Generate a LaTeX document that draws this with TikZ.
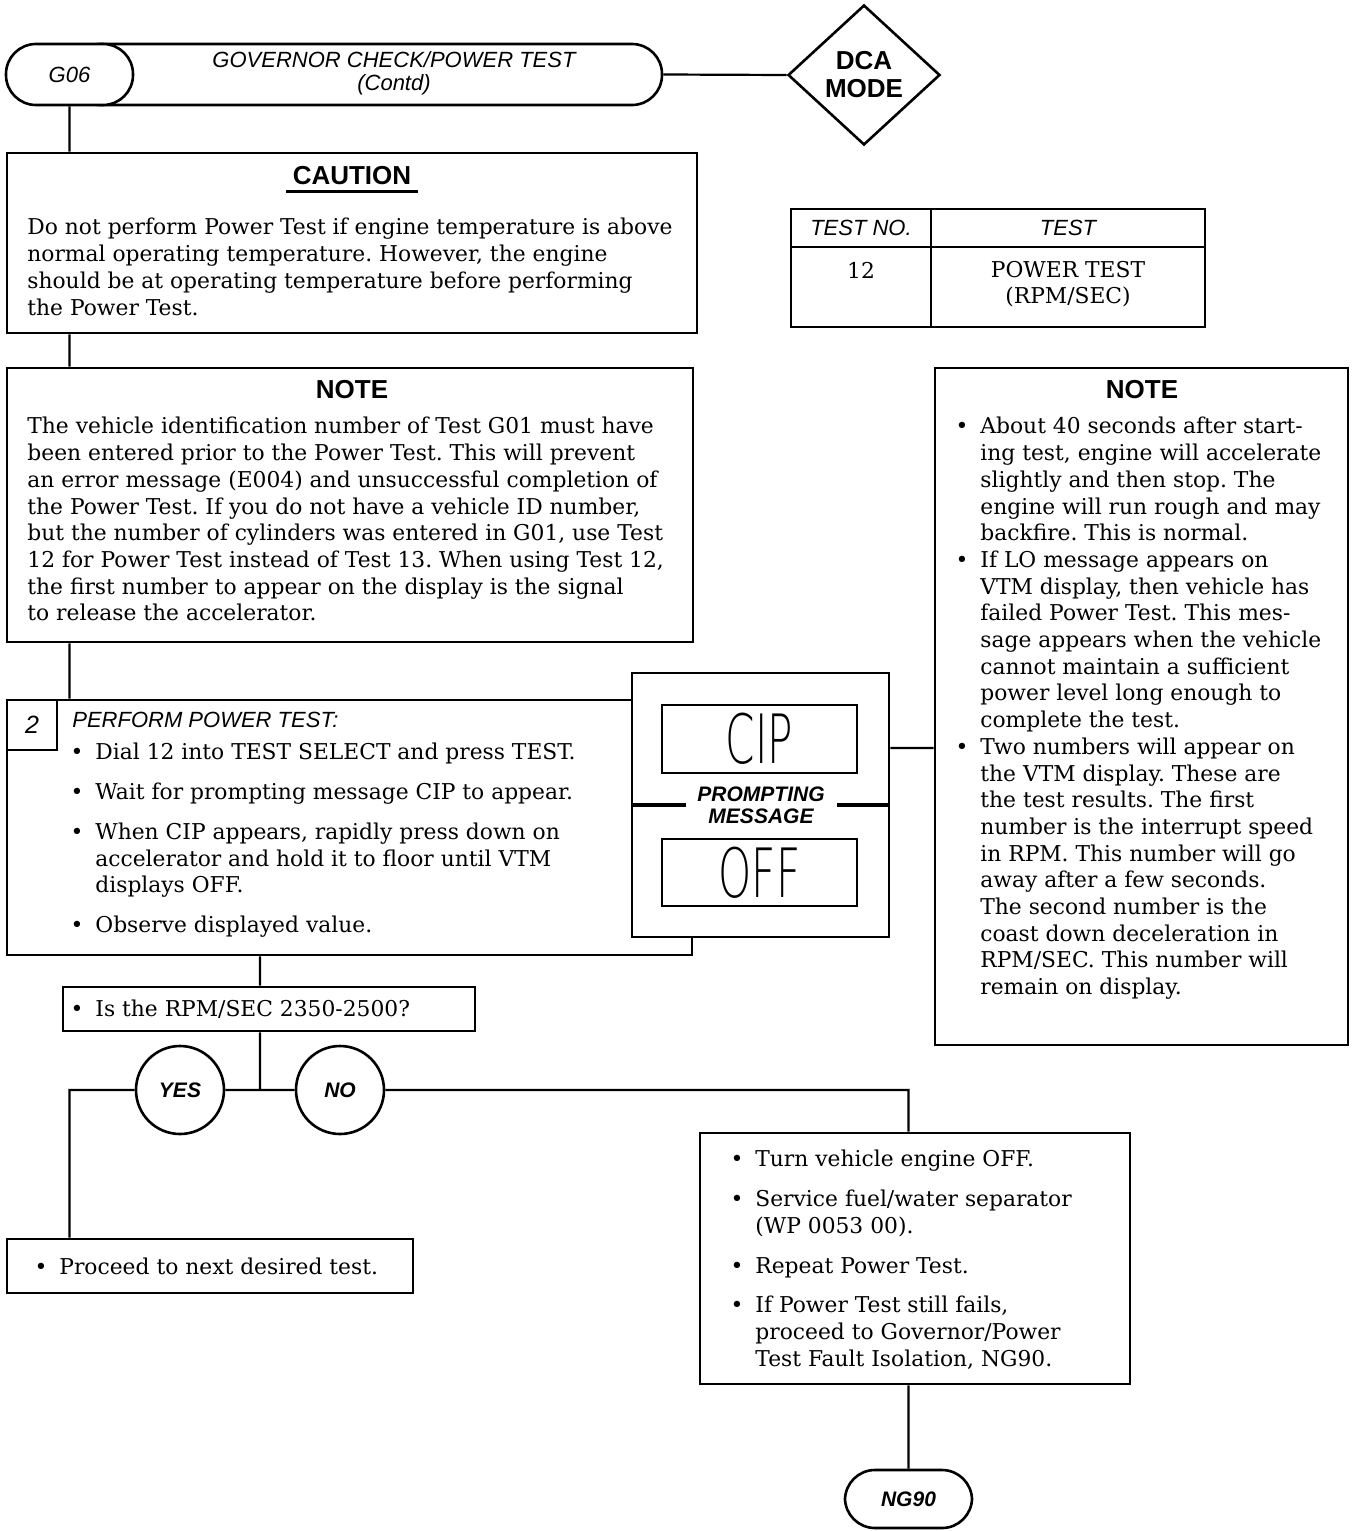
\documentclass[tikz,border=0pt]{standalone}
\usepackage{fontspec}
\setmainfont{DejaVu Serif}
\newfontfamily\labelfont{Liberation Sans}
\newfontfamily\lcdfont{DejaVu Sans ExtraLight}
\usetikzlibrary{positioning, fit, shapes.geometric}
\newcommand\bodysize{\fontsize{10.9}{13.35}\selectfont}
\newcommand\bul{\llap{\textbullet\hskip 6pt}}
\frenchspacing
\tikzset{
    panel/.style={
        draw=black,
        line width=1.3pt,
        fill=white,
        inner sep=0pt
    },
    pill/.style={panel, rounded corners=15pt},
    link/.style={draw=black, line width=1.1pt},
    body/.style={font=\bodysize, align=left, inner sep=0pt, anchor=north west},
    tag/.style={font=\labelfont\itshape\fontsize{11}{11.5}\selectfont, inner sep=0pt},
    sign/.style={font=\labelfont\bfseries\fontsize{13}{14}\selectfont, inner sep=0pt},
    answer/.style={panel, circle, minimum size=44pt,
        font=\labelfont\bfseries\itshape\fontsize{10.5}{11}\selectfont},
    lcd/.style={font=\lcdfont\fontsize{34}{34}\selectfont, inner sep=0pt, xscale=0.62, transform shape}
}
\begin{document}
\begin{tikzpicture}[x=0.5pt, y=-0.5pt]
    \useasboundingbox (0,0) rectangle (1351,1531);

    % Header
    \node (title) [pill, fit={(70,44) (662,105)}] {};
    \node (g06) [pill, fit={(6,44) (133,105)}] {};
    \node (g06txt) [tag] at (g06) {G06};
    \node (titletxt) [tag, align=center] at (394,73) {GOVERNOR CHECK/POWER TEST\\(Contd)};
    \node (dca) [
        panel,
        diamond,
        minimum width=76pt,
        minimum height=70pt,
        sign,
        align=center
    ] at (864,75) {DCA\\MODE};

    % Caution
    \node (caution) [panel, fit={(7,153) (697,333)}] {};
    \node (cauhd) [sign] at (352,176) {CAUTION};
    \draw [line width=1.3pt] ([shift={(-3pt,-3pt)}]cauhd.south west) -- ([shift={(3pt,-3pt)}]cauhd.south east);
    \node (cautxt) [body] at (27,218) {Do not perform Power Test if engine temperature is above\\
        normal operating temperature. However, the engine\\
        should be at operating temperature before performing\\
        the Power Test.};

    % Test table
    \node (tab) [panel, fit={(791,209) (1205,327)}] {};
    \draw [line width=1.3pt] (931,209) -- (931,327) (791,247) -- (1205,247);
    \node (tabno) [tag] at (861,228) {TEST NO.};
    \node (tabtest) [tag] at (1068,228) {TEST};
    \node (tabnum) [font=\bodysize, inner sep=0pt] at (861,270) {12};
    \node (tabname) [font=\bodysize, align=center, inner sep=0pt] at (1068,284) {POWER TEST\\(RPM/SEC)};

    % Left note
    \node (note) [panel, fit={(7,368) (693,642)}] {};
    \node (notehd) [sign] at (352,390) {NOTE};
    \node (notetxt) [body] at (27,417) {The vehicle identification number of Test G01 must have\\
        been entered prior to the Power Test. This will prevent\\
        an error message (E004) and unsuccessful completion of\\
        the Power Test. If you do not have a vehicle ID number,\\
        but the number of cylinders was entered in G01, use Test\\
        12 for Power Test instead of Test 13. When using Test 12,\\
        the first number to appear on the display is the signal\\
        to release the accelerator.};

    % Right note
    \node (rnote) [panel, fit={(935,368) (1348,1045)}] {};
    \node (rnotehd) [sign] at (1142,390) {NOTE};
    \node (rnotetxt) [body] at (980,417) {\bul About 40 seconds after start-\\
        ing test, engine will accelerate\\
        slightly and then stop. The\\
        engine will run rough and may\\
        backfire. This is normal.\\
        \bul If LO message appears on\\
        VTM display, then vehicle has\\
        failed Power Test. This mes-\\
        sage appears when the vehicle\\
        cannot maintain a sufficient\\
        power level long enough to\\
        complete the test.\\
        \bul Two numbers will appear on\\
        the VTM display. These are\\
        the test results. The first\\
        number is the interrupt speed\\
        in RPM. This number will go\\
        away after a few seconds.\\
        The second number is the\\
        coast down deceleration in\\
        RPM/SEC. This number will\\
        remain on display.};

    % Step 2
    \node (step) [panel, fit={(7,700) (692,955)}] {};
    \node (num) [panel, fit={(7,700) (57,750)}] {};
    \node (numtxt) [tag, font=\labelfont\itshape\fontsize{12.5}{13}\selectfont] at (num) {2};
    \node (stephd) [tag, anchor=west] at (72,720) {PERFORM POWER TEST:};
    \node (steptxt) [body] at (95,743) {\bul Dial 12 into TEST SELECT and press TEST.\\[6.5pt]
        \bul Wait for prompting message CIP to appear.\\[6.5pt]
        \bul When CIP appears, rapidly press down on\\
        accelerator and hold it to floor until VTM\\
        displays OFF.\\[6.5pt]
        \bul Observe displayed value.};

    % Prompting message display
    \node (prompt) [panel, fit={(632,673) (889,937)}] {};
    \node (cip) [panel, fit={(662,705) (857,773)}] {};
    \node (off) [panel, fit={(662,839) (857,906)}] {};
    \node (ciptxt) [lcd] at (cip) {CIP};
    \node (offtxt) [lcd] at (off) {OFF};
    \node (prmsg) [
        font=\labelfont\bfseries\itshape\fontsize{10.5}{11}\selectfont,
        align=center,
        inner sep=0pt
    ] at (761,805) {PROMPTING\\MESSAGE};
    \draw [line width=1.6pt] (prompt.west |- prmsg) -- (686,805);
    \draw [line width=1.6pt] (837,805) -- (prompt.east |- prmsg);

    % Question and answers
    \coordinate (stem) at (260,1090);
    \coordinate (tap) at (0,748);
    \node (quest) [panel, fit={(63,987) (475,1031)}] {};
    \node (questtxt) [body, anchor=west] at (95,1009) {\bul Is the RPM/SEC 2350-2500?};
    \node (yes) [answer] at (180,1090) {YES};
    \node (no) [answer] at (340,1090) {NO};
    \node (proceed) [panel, fit={(7,1239) (413,1293)}] {};
    \node (proctxt) [body, anchor=west] at (59,1266) {\bul Proceed to next desired test.};
    \node (act) [panel, fit={(700,1133) (1130,1384)}] {};
    \node (acttxt) [body] at (755,1150) {\bul Turn vehicle engine OFF.\\[6.5pt]
        \bul Service fuel/water separator\\
        (WP 0053 00).\\[6.5pt]
        \bul Repeat Power Test.\\[6.5pt]
        \bul If Power Test still fails,\\
        proceed to Governor/Power\\
        Test Fault Isolation, NG90.};
    \node (ng90) [pill, fit={(845,1470) (972,1528)}] {};
    \node (ng90txt) [answer, draw=none, fill=none, minimum size=0pt, inner sep=0pt] at (ng90) {NG90};

    % Connectors
    \path [link]
        (title.east) -- (dca.west)
        (g06.south) -- (caution.north -| g06)
        (caution.south -| g06) -- (note.north -| g06)
        (note.south -| g06) -- (step.north -| g06)
        (tap -| prompt.east) -- (tap -| rnote.west)
        (step.south -| stem) -- (quest.north -| stem)
        (quest.south -| stem) -- (stem)
        (yes.east) -- (no.west)
        (yes.west) -- (yes.west -| g06) -- (proceed.north -| g06)
        (no.east) -- (no.east -| ng90) -- (act.north -| ng90)
        (act.south -| ng90) -- (ng90.north)
    ;
\end{tikzpicture}
\end{document}
